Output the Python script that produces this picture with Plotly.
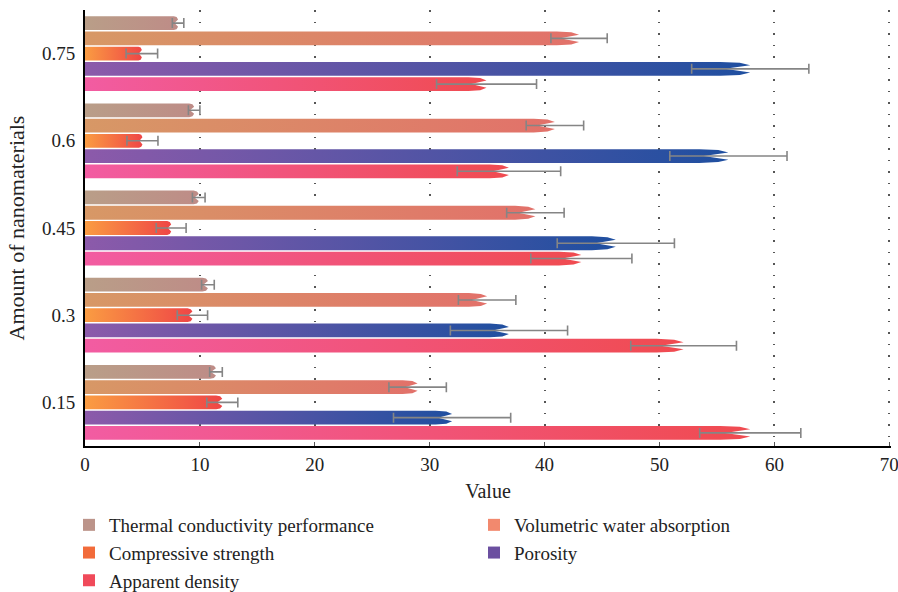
import plotly.graph_objects as go

# ---------------- data ----------------
amounts = ["0.15", "0.3", "0.45", "0.6", "0.75"]
series_names = [
    "Thermal conductivity performance",
    "Volumetric water absorption",
    "Compressive strength",
    "Porosity",
    "Apparent density",
]
thermal = [11.4, 10.7, 9.9, 9.5, 8.1]
thermal_err = [0.55, 0.55, 0.55, 0.5, 0.5]
volumetric = [28.95, 35.0, 39.2, 40.9, 43.0]
volumetric_err = [2.5, 2.5, 2.5, 2.5, 2.45]
compressive = [11.95, 9.35, 7.5, 5.0, 4.95]
compressive_err = [1.35, 1.32, 1.3, 1.35, 1.37]
porosity = [31.95, 36.9, 46.2, 56.0, 57.9]
porosity_err = [5.1, 5.1, 5.1, 5.1, 5.1]
apparent = [57.9, 52.1, 43.2, 36.9, 34.95]
apparent_err = [4.4, 4.6, 4.4, 4.5, 4.35]

values = [thermal, volumetric, compressive, porosity, apparent]
errors = [thermal_err, volumetric_err, compressive_err, porosity_err, apparent_err]

# ---------------- styles ----------------
grad_start = ["#b99e88", "#d79866", "#fa9c42", "#8c5aaa", "#f25ca2"]
grad_end = ["#be8c87", "#e2716a", "#ef4646", "#1f4fa0", "#f04b50"]
legend_colors = ["#bc948a", "#f2896e", "#f26b3a", "#6b4fa0", "#f04a5a"]

FONT = "Liberation Serif"
pitch = 0.175   # distance between bars in a group (axis units)
h = 0.158       # bar thickness (axis units)
X_MAX = 70.15   # a hair past 70 so the gridline at 70 is drawn

W, H = 898, 592
plot_l, plot_r, plot_t, plot_b = 85, 891, 10, 446

fig = go.Figure()

for k, (name, vals) in enumerate(zip(series_names, values)):
    for g, v in enumerate(vals):
        yc = g + (2 - k) * pitch
        top = yc + h / 2
        bot = yc - h / 2
        d = max(0.045 * v, 0.3)
        xs = [0, v - d, v - 0.35 * d, v, v - 0.85 * d, v, v - 0.35 * d, v - d, 0, 0]
        ys = [top, top, top - 0.06 * h, top - 0.24 * h, yc,
              bot + 0.24 * h, bot + 0.06 * h, bot, bot, top]
        fig.add_trace(go.Scatter(
            x=xs, y=ys, mode="lines", fill="toself",
            line=dict(width=0),
            fillgradient=dict(type="horizontal",
                              colorscale=[[0, grad_start[k]], [1, grad_end[k]]]),
            hoverinfo="skip", showlegend=False,
        ))

for k, (vals, errs) in enumerate(zip(values, errors)):
    ypos = [g + (2 - k) * pitch for g in range(len(vals))]
    fig.add_trace(go.Scatter(
        x=vals, y=ypos, mode="markers",
        marker=dict(size=2, color="rgba(0,0,0,0)"),
        error_x=dict(type="data", array=errs, color="#858585",
                     thickness=1.6, width=5),
        showlegend=False, name=series_names[k],
    ))

for k, name in enumerate(series_names):
    fig.add_trace(go.Scatter(
        x=[None], y=[None], mode="markers", name=name,
        marker=dict(symbol="square", size=11, color=legend_colors[k]),
    ))

fig.update_layout(
    width=W, height=H,
    margin=dict(l=plot_l, r=W - plot_r, t=plot_t, b=H - plot_b),
    plot_bgcolor="white", paper_bgcolor="white",
    font=dict(family=FONT, size=19, color="#222222"),
    showlegend=True,
    legend=dict(
        orientation="h", xref="container", yref="container",
        x=69 / W, xanchor="left",
        y=1 - 506 / H, yanchor="top",
        entrywidth=360, entrywidthmode="pixels",
        font=dict(family=FONT, size=19, color="#222222"),
        itemsizing="constant", tracegroupgap=0,
    ),
    xaxis=dict(
        range=[0, X_MAX], tickvals=[0, 10, 20, 30, 40, 50, 60, 70],
        automargin=False, ticklabeloverflow="allow",
        showgrid=True, gridcolor="#555555", gridwidth=1.5, griddash="1.5px,10px",
        zeroline=False, showline=True, linecolor="black", linewidth=2,
        ticks="inside", ticklen=4, tickcolor="#555555",
        title=dict(text="Value", standoff=10, font=dict(family=FONT, size=20)),
        tickfont=dict(family=FONT, size=19, color="#222222"),
    ),
    yaxis=dict(
        range=[-0.5, 4.5], tickvals=list(range(len(amounts))), ticktext=amounts,
        automargin=False, ticklabelstandoff=4,
        showgrid=False, zeroline=False, showline=True, linecolor="black",
        linewidth=2, ticks="",
        title=dict(text="Amount of nanomaterials", standoff=11,
                   font=dict(family=FONT, size=22)),
        tickfont=dict(family=FONT, size=19, color="#222222"),
    ),
)

# drop the browser's default 8px body margin so the figure fills the window
fig.write_html(
    "out.html",
    config={"displayModeBar": False},
    post_script="document.body.style.margin='0px';"
                "document.documentElement.style.overflow='hidden';",
)
